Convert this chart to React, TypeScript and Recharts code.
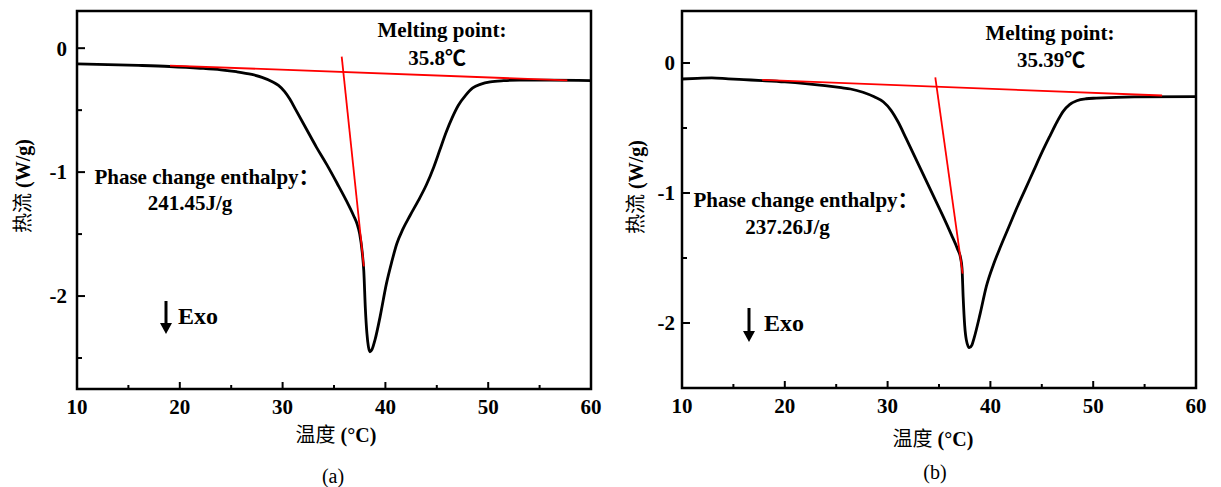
import React from 'react';
import { LineChart, Line, XAxis, YAxis, ReferenceArea } from 'recharts';

// ---------- data: chart (a) ----------
const tempA = [10, 13, 16, 19, 22, 24, 25.5, 27, 28, 29, 29.6, 30.2, 30.7, 31.3, 32.3, 33.3, 34.3, 35.3, 36.2, 36.9, 37.25, 37.5, 37.75, 37.9, 38.05, 38.2, 38.35, 38.5, 38.7, 39.0, 39.5, 40.1, 40.6, 41.1, 41.7, 42.4, 43.2, 44.0, 44.7, 45.3, 45.9, 46.5, 47.1, 47.8, 48.5, 49.3, 50.2, 51.5, 53, 56, 60];
const flowA = [-0.127, -0.132, -0.139, -0.148, -0.162, -0.175, -0.19, -0.212, -0.235, -0.27, -0.3, -0.35, -0.41, -0.5, -0.65, -0.8, -0.94, -1.09, -1.23, -1.35, -1.42, -1.5, -1.65, -1.8, -2.1, -2.3, -2.41, -2.45, -2.43, -2.35, -2.16, -1.9, -1.73, -1.58, -1.46, -1.35, -1.23, -1.1, -0.96, -0.82, -0.68, -0.56, -0.46, -0.38, -0.32, -0.29, -0.272, -0.262, -0.258, -0.258, -0.262];
const baseTA = [19.05, 57.7];
const baseVA = [-0.14, -0.26];
const tanTA = [35.75, 37.9];
const tanVA = [-0.068, -1.76];

// ---------- data: chart (b) ----------
const tempB = [10, 11.5, 12.9, 14.5, 16, 17.8, 20, 22, 23.9, 25.5, 26.4, 27.6, 28.7, 29.6, 30.3, 31.0, 31.8, 32.7, 33.6, 34.5, 35.4, 36.2, 36.8, 37.1, 37.24, 37.35, 37.5, 37.66, 37.95, 38.2, 38.4, 39.0, 39.6, 40.3, 41.0, 41.8, 42.6, 43.4, 44.2, 45.0, 45.8, 46.5, 47.1, 47.7, 48.4, 49.3, 50.3, 54, 60];
const flowB = [-0.123, -0.118, -0.114, -0.122, -0.128, -0.135, -0.145, -0.158, -0.174, -0.19, -0.2, -0.225, -0.26, -0.3, -0.36, -0.45, -0.58, -0.73, -0.88, -1.03, -1.18, -1.32, -1.43, -1.5, -1.58, -1.8, -2.02, -2.13, -2.19, -2.17, -2.12, -1.93, -1.72, -1.55, -1.41, -1.26, -1.11, -0.97, -0.83, -0.69, -0.56, -0.45, -0.37, -0.32, -0.29, -0.275, -0.27, -0.26, -0.258];
const baseTB = [17.8, 56.7];
const baseVB = [-0.13, -0.25];
const tanTB = [34.64, 37.3];
const tanVB = [-0.11, -1.62];

// ---------- ticks ----------
const xTicks = [10, 15, 20, 25, 30, 35, 40, 45, 50, 55, 60];
const yTicks = [-2.5, -2, -1.5, -1, -0.5, 0];
const xDomain: [number, number] = [10, 60];
const yDomainA: [number, number] = [-2.75, 0.3];
const yDomainB: [number, number] = [-2.5, 0.4];

const toRows = (t: number[], v: number[]) => t.map((x, i) => ({ t: x, v: v[i] }));

const FONT = "'Times New Roman', 'Liberation Serif', 'Noto Sans CJK SC', serif";
const X_TICK_MARGIN = 18;

const XTick = (props: any) => {
  const { x, y, payload } = props;
  const major = payload.value % 10 === 0;
  const axisY = y - X_TICK_MARGIN;
  return (
    <g>
      <line x1={x} x2={x} y1={axisY} y2={axisY - (major ? 7 : 4)} stroke="#000" strokeWidth={2} />
      {major && (
        <text x={x} y={y} dy="0.35em" textAnchor="middle" fontFamily={FONT} fontWeight="bold" fontSize={21} fill="#000">
          {payload.value}
        </text>
      )}
    </g>
  );
};

const makeYTick = (margin: number) => (props: any) => {
  const { x, y, payload } = props;
  const major = Number.isInteger(payload.value);
  const left = x + margin;
  return (
    <g>
      <line x1={left} x2={left + (major ? 8 : 5)} y1={y} y2={y} stroke="#000" strokeWidth={2} />
      {major && (
        <text x={x} y={y} dy="0.35em" textAnchor="end" fontFamily={FONT} fontWeight="bold" fontSize={21} fill="#000">
          {payload.value === 0 ? '0' : String(payload.value)}
        </text>
      )}
    </g>
  );
};

const YTickA = makeYTick(10);
const YTickB = makeYTick(7);

type PanelProps = {
  curve: { t: number; v: number }[];
  base: { t: number; v: number }[];
  tan: { t: number; v: number }[];
  yDomain: [number, number];
  yMargin: number;
  YTickC: any;
  bottom: number;
};

const Panel = ({ curve, base, tan, yDomain, yMargin, YTickC, bottom }: PanelProps) => (
  <LineChart width={610} height={487} margin={{ top: 11, right: 19, bottom: bottom - 40, left: 0 }}>
    <XAxis
      type="number"
      dataKey="t"
      domain={xDomain}
      ticks={xTicks}
      interval={0}
      allowDataOverflow
      axisLine={false}
      tickLine={false}
      tickSize={0}
      tickMargin={X_TICK_MARGIN}
      height={40}
      tick={<XTick />}
    />
    <YAxis
      type="number"
      domain={yDomain}
      ticks={yTicks}
      interval={0}
      allowDataOverflow
      axisLine={false}
      tickLine={false}
      tickSize={0}
      tickMargin={yMargin}
      width={77}
      tick={<YTickC />}
    />
    <ReferenceArea
      x1={xDomain[0]}
      x2={xDomain[1]}
      y1={yDomain[0]}
      y2={yDomain[1]}
      fill="none"
      fillOpacity={0}
      stroke="#000"
      strokeWidth={2.5}
      ifOverflow="visible"
    />
    <Line data={curve} dataKey="v" type="monotone" stroke="#000" strokeWidth={2.8} dot={false} isAnimationActive={false} />
    <Line data={base} dataKey="v" type="linear" stroke="#ff0000" strokeWidth={1.8} dot={false} isAnimationActive={false} />
    <Line data={tan} dataKey="v" type="linear" stroke="#ff0000" strokeWidth={1.8} dot={false} isAnimationActive={false} />
  </LineChart>
);

const Arrow = ({ x, y1, y2 }: { x: number; y1: number; y2: number }) => (
  <g>
    <line x1={x} x2={x} y1={y1} y2={y2 - 6} stroke="#000" strokeWidth={3} />
    <polygon points={`${x - 6},${y2 - 11} ${x + 6},${y2 - 11} ${x},${y2}`} fill="#000" />
  </g>
);

export default function App() {
  const txt = { fontFamily: FONT, fill: '#000' } as const;
  return (
    <div style={{ position: 'absolute', left: 0, top: 0, width: 1221, height: 487, background: '#fff' }}>
      <div style={{ position: 'absolute', left: 0, top: 0 }}>
        <Panel curve={toRows(tempA, flowA)} base={toRows(baseTA, baseVA)} tan={toRows(tanTA, tanVA)} yDomain={yDomainA} yMargin={10} YTickC={YTickA} bottom={98} />
      </div>
      <div style={{ position: 'absolute', left: 605, top: 0 }}>
        <Panel curve={toRows(tempB, flowB)} base={toRows(baseTB, baseVB)} tan={toRows(tanTB, tanVB)} yDomain={yDomainB} yMargin={7} YTickC={YTickB} bottom={99} />
      </div>
      <svg width={1221} height={487} style={{ position: 'absolute', left: 0, top: 0, pointerEvents: 'none' }}>
        {/* panel (a) */}
        <text {...txt} x={22.5} y={186} fontSize={20} textAnchor="middle" dominantBaseline="central" transform="rotate(-90 22.5 186)">
          <tspan>热流 </tspan>
          <tspan fontWeight="bold">(W/g)</tspan>
        </text>
        <text {...txt} x={336} y={442} fontSize={20} textAnchor="middle">
          <tspan>温度 </tspan>
          <tspan fontWeight="bold">(°C)</tspan>
        </text>
        <text {...txt} x={333} y={483} fontSize={20} textAnchor="middle">(a)</text>
        <text {...txt} x={442} y={37} fontSize={21} fontWeight="bold" textAnchor="middle">Melting point:</text>
        <text {...txt} x={437} y={65} fontSize={21} fontWeight="bold" textAnchor="middle">35.8℃</text>
        <text {...txt} x={207} y={184} fontSize={21} fontWeight="bold" textAnchor="middle">Phase change enthalpy：</text>
        <text {...txt} x={190} y={210} fontSize={21} fontWeight="bold" textAnchor="middle">241.45J/g</text>
        <text {...txt} x={178} y={324} fontSize={24} fontWeight="bold">Exo</text>
        <Arrow x={166} y1={301} y2={334} />

        {/* panel (b) */}
        <text {...txt} x={636.4} y={187} fontSize={20} textAnchor="middle" dominantBaseline="central" transform="rotate(-90 636.4 187)">
          <tspan>热流 </tspan>
          <tspan fontWeight="bold">(W/g)</tspan>
        </text>
        <text {...txt} x={933} y={446} fontSize={20} textAnchor="middle">
          <tspan>温度 </tspan>
          <tspan fontWeight="bold">(°C)</tspan>
        </text>
        <text {...txt} x={935} y={479} fontSize={20} textAnchor="middle">(b)</text>
        <text {...txt} x={1050} y={40} fontSize={21} fontWeight="bold" textAnchor="middle">Melting point:</text>
        <text {...txt} x={1051} y={67} fontSize={21} fontWeight="bold" textAnchor="middle">35.39℃</text>
        <text {...txt} x={806} y={207} fontSize={21} fontWeight="bold" textAnchor="middle">Phase change enthalpy：</text>
        <text {...txt} x={787.5} y={234} fontSize={21} fontWeight="bold" textAnchor="middle">237.26J/g</text>
        <text {...txt} x={764} y={331} fontSize={24} fontWeight="bold">Exo</text>
        <Arrow x={749} y1={308} y2={342} />
      </svg>
    </div>
  );
}
